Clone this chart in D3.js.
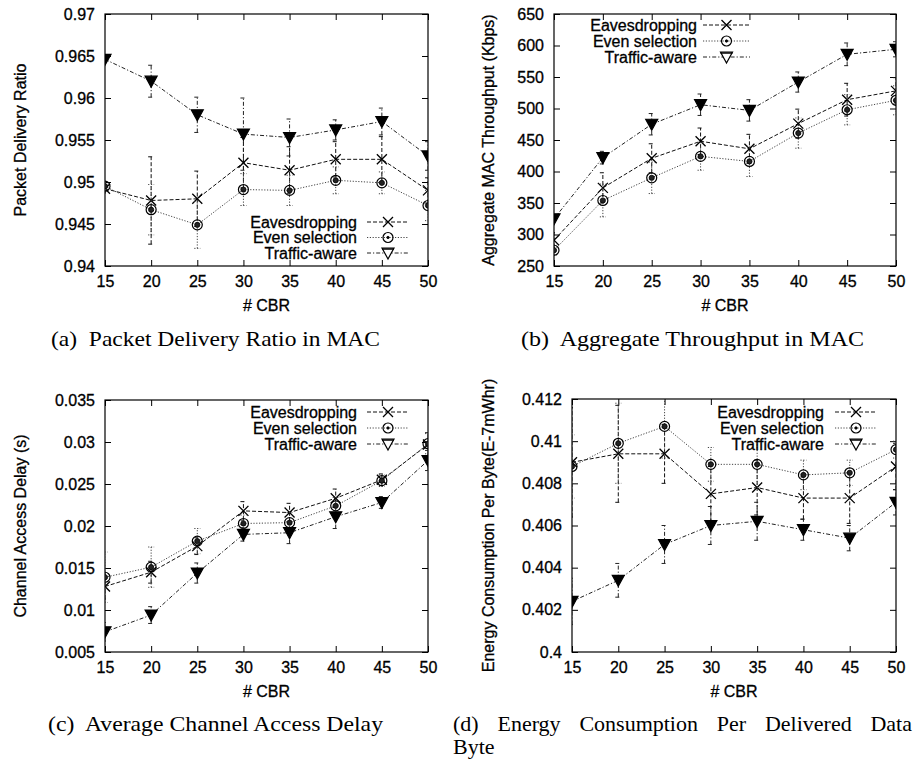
<!DOCTYPE html>
<html>
<head>
<style>
    body { margin: 0; background: #fff; }
    svg { display: block; }
    .tick text, .lab { font-family: "Liberation Sans", Arial, sans-serif; fill: #000; stroke: #000; stroke-width: 0.3px; }
    .cap { font-family: "Liberation Serif", "Times New Roman", serif; fill: #000; }
</style>
</head>
<body>
<svg id="chart" width="915" height="767"></svg>
<script src="https://d3js.org/d3.v7.min.js"></script>
<script>
    // ---- data ----
    let xCBR = [15, 20, 25, 30, 35, 40, 45, 50];
    let seriesNames = ["Eavesdropping", "Even selection", "Traffic-aware"];

    let pdrEaves = [0.9492, 0.9478, 0.9480, 0.9523, 0.9514, 0.9527, 0.9527, 0.9490];
    let pdrEavesErr = [0.0005, 0.0052, 0.0033, 0.0030, 0.0028, 0.0021, 0.0027, 0.0015];
    let pdrEven = [0.9495, 0.9467, 0.9449, 0.9491, 0.9490, 0.9502, 0.9499, 0.9472];
    let pdrEvenErr = [0.0004, 0.0030, 0.0028, 0.0019, 0.0018, 0.0016, 0.0013, 0.0018];
    let pdrTraffic = [0.9646, 0.9620, 0.9580, 0.9557, 0.9553, 0.9562, 0.9572, 0.9531];
    let pdrTrafficErr = [0.0003, 0.0019, 0.0021, 0.0043, 0.0022, 0.0012, 0.0016, 0.0017];
    let pdrTicks = [0.94, 0.945, 0.95, 0.955, 0.96, 0.965, 0.97];

    let thrEaves = [291, 374, 421, 448, 436, 476, 514, 528];
    let thrEavesErr = [12, 24, 23, 21, 23, 23, 26, 21];
    let thrEven = [275, 354, 390, 424, 416, 461, 498, 513];
    let thrEvenErr = [8, 26, 25, 22, 24, 24, 24, 23];
    let thrTraffic = [325, 422, 475, 506, 497, 542, 586, 594];
    let thrTrafficErr = [6, 10, 17, 17, 17, 16, 18, 12];
    let thrTicks = [250, 300, 350, 400, 450, 500, 550, 600, 650];

    let delEaves = [0.0128, 0.0145, 0.0176, 0.0218, 0.0216, 0.0233, 0.0255, 0.0297];
    let delEavesErr = [0.0015, 0.0013, 0.0010, 0.0011, 0.0011, 0.0011, 0.0007, 0.0014];
    let delEven = [0.0139, 0.0151, 0.0182, 0.0203, 0.0204, 0.0224, 0.0254, 0.0298];
    let delEvenErr = [0.0030, 0.0024, 0.0015, 0.0010, 0.0012, 0.0010, 0.0007, 0.0012];
    let delTraffic = [0.0074, 0.0094, 0.0144, 0.0190, 0.0192, 0.0211, 0.0228, 0.0278];
    let delTrafficErr = [0.0011, 0.0010, 0.0012, 0.0008, 0.0013, 0.0014, 0.0007, 0.0012];
    let delTicks = [0.005, 0.01, 0.015, 0.02, 0.025, 0.03, 0.035];

    let engEaves = [0.4090, 0.4094, 0.4094, 0.4075, 0.4078, 0.4073, 0.4073, 0.4088];
    let engEavesErr = [0.0026, 0.0023, 0.0014, 0.0013, 0.0013, 0.0010, 0.0012, 0.0011];
    let engEven = [0.4088, 0.4099, 0.4107, 0.4089, 0.4089, 0.4084, 0.4085, 0.4096];
    let engEvenErr = [0.0015, 0.0019, 0.0015, 0.0008, 0.0011, 0.0007, 0.0006, 0.0004];
    let engTraffic = [0.4024, 0.4034, 0.4051, 0.4060, 0.4062, 0.4058, 0.4054, 0.4071];
    let engTrafficErr = [0.0011, 0.0008, 0.0009, 0.0009, 0.0009, 0.0005, 0.0006, 0.0006];
    let engTicks = [0.4, 0.402, 0.404, 0.406, 0.408, 0.41, 0.412];

    // ---- layout ----
    let svg = d3.select("#chart");
    let dashes = ["4,2", "1.2,1.6", "4,2,1.2,2"];
    let strokes = ["#111", "#444", "#222"];

    let panels = [
        {id: "a", box: [105, 14, 428, 266], ticks: pdrTicks, ylab: "Packet Delivery Ratio", ylabX: 20,
         series: [[pdrEaves, pdrEavesErr], [pdrEven, pdrEvenErr], [pdrTraffic, pdrTrafficErr]],
         legend: {right: 357, rows: [222, 237.5, 253], x1: 367, x2: 409},
         caption: {text: "(a)  Packet Delivery Ratio in MAC", x: 51, w: 329, y: 346}},
        {id: "b", box: [554, 14, 896, 266], ticks: thrTicks, ylab: "Aggregate MAC Throughput (Kbps)", ylabX: 488,
         series: [[thrEaves, thrEavesErr], [thrEven, thrEvenErr], [thrTraffic, thrTrafficErr]],
         legend: {right: 697, rows: [25, 41, 57], x1: 703, x2: 750},
         caption: {text: "(b)  Aggregate Throughput in MAC", x: 521, w: 343, y: 346}},
        {id: "c", box: [105, 400, 428, 652], ticks: delTicks, ylab: "Channel Access Delay (s)", ylabX: 20,
         series: [[delEaves, delEavesErr], [delEven, delEvenErr], [delTraffic, delTrafficErr]],
         legend: {right: 357, rows: [412, 428, 444], x1: 367, x2: 409},
         caption: {text: "(c)  Average Channel Access Delay", x: 48, w: 335, y: 731}},
        {id: "d", box: [572, 399, 896, 652], ticks: engTicks, ylab: "Energy Consumption Per Byte(E-7mWhr)", ylabX: 488,
         series: [[engEaves, engEavesErr], [engEven, engEvenErr], [engTraffic, engTrafficErr]],
         legend: {right: 824, rows: [412, 428, 444], x1: 835, x2: 877},
         caption: null}
    ];

    function marker(g, kind, x, y, inLegend) {
        if (kind === 0) {
            g.append("path")
                .attr("d", `M${x - 5},${y - 5}L${x + 5},${y + 5}M${x - 5},${y + 5}L${x + 5},${y - 5}`)
                .attr("stroke", "#000").attr("stroke-width", 1.3).attr("fill", "none");
        } else if (kind === 1) {
            g.append("circle").attr("cx", x).attr("cy", y).attr("r", 5)
                .attr("fill", "none").attr("stroke", "#000").attr("stroke-width", 1.2);
            g.append("circle").attr("cx", x).attr("cy", y).attr("r", inLegend ? 1.2 : 2.6)
                .attr("fill", inLegend ? "#000" : "#222").attr("stroke", "#000").attr("stroke-width", 0.8);
        } else {
            g.append("path")
                .attr("d", `M${x - 6},${y - 5}L${x + 6},${y - 5}L${x},${y + 6}Z`)
                .attr("fill", inLegend ? "#fff" : "#000").attr("stroke", "#000").attr("stroke-width", 1.2);
            if (inLegend) {
                g.append("line").attr("x1", x - 6).attr("x2", x + 6).attr("y1", y - 4).attr("y2", y - 4)
                    .attr("stroke", "#000").attr("stroke-width", 1.5);
            }
        }
    }

    panels.forEach((p) => {
        let [l, t, r, b] = p.box;
        let x = d3.scaleLinear().domain([15, 50]).range([l, r]);
        let y = d3.scaleLinear().domain([p.ticks[0], p.ticks[p.ticks.length - 1]]).range([b, t]);
        let g = svg.append("g");
        let fmt = d3.format("~g");

        // axes, gnuplot style: inward ticks mirrored on all four sides
        let axL = g.append("g").attr("transform", `translate(${l},0)`)
            .call(d3.axisLeft(y).tickValues(p.ticks).tickFormat(fmt).tickSize(-6).tickPadding(10));
        g.append("g").attr("transform", `translate(${r},0)`)
            .call(d3.axisRight(y).tickValues(p.ticks).tickFormat("").tickSize(-6));
        let axB = g.append("g").attr("transform", `translate(0,${b})`)
            .call(d3.axisBottom(x).tickValues(xCBR).tickFormat(fmt).tickSize(-6).tickPadding(10));
        g.append("g").attr("transform", `translate(0,${t})`)
            .call(d3.axisTop(x).tickValues(xCBR).tickFormat("").tickSize(-6));
        g.selectAll(".domain").remove();
        g.selectAll(".tick line").attr("stroke", "#000");
        [axL, axB].forEach((a) => a.selectAll("text").attr("font-size", 16).attr("font-family", "Liberation Sans, Arial, sans-serif").attr("fill", "#000"));
        g.append("rect").attr("x", l).attr("y", t).attr("width", r - l).attr("height", b - t)
            .attr("fill", "none").attr("stroke", "#000").attr("stroke-width", 1.2);

        // axis titles
        g.append("text").attr("class", "lab").attr("font-size", 16)
            .attr("x", (l + r) / 2).attr("y", b + 45).attr("text-anchor", "middle").text("# CBR");
        g.append("text").attr("class", "lab").attr("font-size", 16)
            .attr("transform", `translate(${p.ylabX},${(t + b) / 2}) rotate(-90)`)
            .attr("dy", "0.35em").attr("text-anchor", "middle").text(p.ylab);

        // series
        let clipId = "clip" + p.id;
        g.append("clipPath").attr("id", clipId).append("rect")
            .attr("x", l).attr("y", t).attr("width", r - l).attr("height", b - t);
        let plot = g.append("g").attr("clip-path", `url(#${clipId})`);
        let line = d3.line().x((d) => x(d[0])).y((d) => y(d[1]));

        p.series.forEach(([vals, errs], k) => {
            let pts = xCBR.map((c, i) => [c, vals[i], errs[i]]);
            let sg = plot.append("g");
            sg.selectAll(".err")
                .data(pts)
                .enter()
                .append("path")
                    .attr("class", "err")
                    .attr("d", (d) => {
                        let cx = x(d[0]), y0 = y(d[1] - d[2]), y1 = y(d[1] + d[2]);
                        return `M${cx},${y0}V${y1}M${cx - 3},${y0}H${cx + 3}M${cx - 3},${y1}H${cx + 3}`;
                    })
                    .attr("fill", "none").attr("stroke", strokes[k]).attr("stroke-width", 1)
                    .attr("stroke-dasharray", dashes[k]);
            sg.append("path").datum(pts).attr("d", line)
                .attr("fill", "none").attr("stroke", strokes[k]).attr("stroke-width", 1)
                .attr("stroke-dasharray", dashes[k]);
            pts.forEach((d) => marker(sg, k, x(d[0]), y(d[1]), false));
        });

        // legend
        let lg = g.append("g");
        seriesNames.forEach((name, k) => {
            let ry = p.legend.rows[k];
            lg.append("text").attr("class", "lab").attr("font-size", 16)
                .attr("x", p.legend.right).attr("y", ry).attr("dy", "0.35em")
                .attr("text-anchor", "end").text(name);
            lg.append("line").attr("x1", p.legend.x1).attr("x2", p.legend.x2)
                .attr("y1", ry).attr("y2", ry)
                .attr("stroke", strokes[k]).attr("stroke-width", 1).attr("stroke-dasharray", dashes[k]);
            marker(lg, k, (p.legend.x1 + p.legend.x2) / 2, ry, true);
        });

        if (p.caption) {
            svg.append("text").attr("class", "cap").attr("font-size", 22)
                .attr("x", p.caption.x).attr("y", p.caption.y)
                .attr("textLength", p.caption.w).attr("lengthAdjust", "spacingAndGlyphs")
                .attr("xml:space", "preserve")
                .text(p.caption.text);
        }
    });

    // caption (d): justified first line, then "Byte"
    let dWords = ["(d)", "Energy", "Consumption", "Per", "Delivered", "Data"];
    let capD = svg.append("g");
    let wordEls = dWords.map((w) => capD.append("text").attr("class", "cap").attr("font-size", 22)
        .attr("y", 731).text(w));
    let widths = wordEls.map((e) => e.node().getComputedTextLength());
    let startX = 453, endX = 912;
    let gap = (endX - startX - d3.sum(widths)) / (dWords.length - 1);
    let cur = startX;
    wordEls.forEach((e, i) => { e.attr("x", cur); cur += widths[i] + gap; });
    capD.append("text").attr("class", "cap").attr("font-size", 22)
        .attr("x", 453).attr("y", 754).text("Byte");
</script>
</body>
</html>
